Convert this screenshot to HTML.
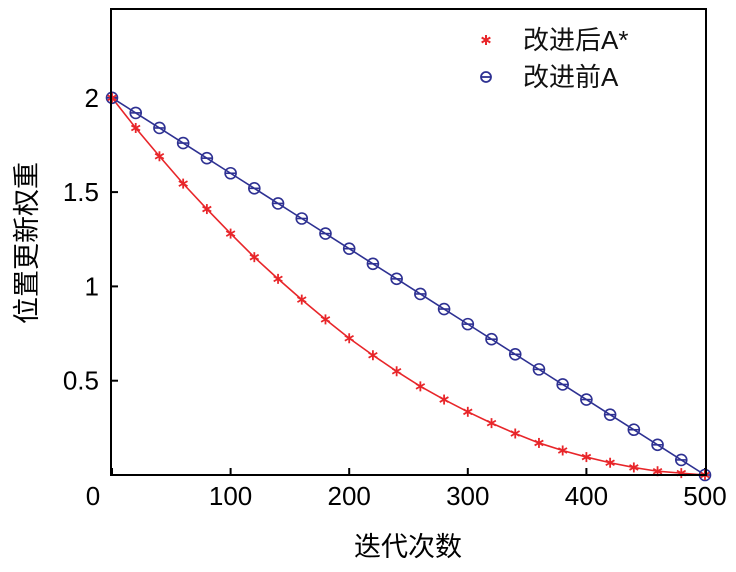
<!DOCTYPE html>
<html><head><meta charset="utf-8"><style>
body{margin:0;background:#fff;}
svg text{font-family:"Liberation Sans","Noto Sans CJK SC",sans-serif;}
</style></head><body>
<svg id="chart" width="736" height="567" xmlns="http://www.w3.org/2000/svg">
<g id="ticks"></g>
<g id="series"></g>
<rect x="111" y="9" width="595" height="466" fill="none" stroke="#000" stroke-width="2"/>
<text x="408" y="556" font-size="27" text-anchor="middle" font-family="'Noto Serif CJK SC','Liberation Serif',serif">迭代次数</text>
<text transform="translate(36,243) rotate(-90)" font-size="27" text-anchor="middle" font-family="'Noto Serif CJK SC','Liberation Serif',serif">位置更新权重</text>
<g>
<g transform="translate(486,40)" stroke="#e8262a" stroke-width="2">
<line x1="0" y1="-5" x2="0" y2="5"/><line x1="0" y1="-5" x2="0" y2="5" transform="rotate(60)"/><line x1="0" y1="-5" x2="0" y2="5" transform="rotate(120)"/>
</g>
<text x="523" y="49" font-size="26" fill="#111">改进后A*</text>
<circle cx="486" cy="77" r="5" fill="none" stroke="#2e3192" stroke-width="1.8"/>
<line x1="481" y1="77" x2="491" y2="77" stroke="#2e3192" stroke-width="1.8"/>
<text x="523" y="86" font-size="26" fill="#111">改进前A</text>
</g>
</svg>
<script>
const iterations=[0,20,40,60,80,100,120,140,160,180,200,220,240,260,280,300,320,340,360,380,400,420,440,460,480,500];
const improvedValues=[2,1.84,1.69,1.545,1.41,1.28,1.155,1.04,0.93,0.825,0.725,0.635,0.55,0.47,0.4,0.335,0.275,0.22,0.17,0.13,0.095,0.065,0.04,0.02,0.01,0];
const originalValues=[2,1.92,1.84,1.76,1.68,1.6,1.52,1.44,1.36,1.28,1.2,1.12,1.04,0.96,0.88,0.8,0.72,0.64,0.56,0.48,0.4,0.32,0.24,0.16,0.08,0];
const xTicks=[0,100,200,300,400,500];
const xTickLabels=["0","100","200","300","400","500"];
const yTicks=[0.5,1,1.5,2];
const yTickLabels=["0.5","1","1.5","2"];
const NS="http://www.w3.org/2000/svg";
const sx=v=>112+v*(705-112)/500;
const sy=v=>475-v*188.6;
function mk(tag,attrs,parent){const e=document.createElementNS(NS,tag);for(const k in attrs)e.setAttribute(k,attrs[k]);parent.appendChild(e);return e;}
const tg=document.getElementById('ticks');
xTicks.forEach((t,i)=>{
 const l=mk('line',{x1:sx(t),x2:sx(t),y1:475,y2:468,stroke:'#000','stroke-width':2},tg);
 
 
 const tx=mk('text',{x:i===0?93:sx(t),y:505,'font-size':26,'text-anchor':'middle'},tg);
 tx.textContent=xTickLabels[i];
 
 
});
yTicks.forEach((t,i)=>{
 const l=mk('line',{x1:111,x2:118,y1:sy(t),y2:sy(t),stroke:'#000','stroke-width':2},tg);
 
 
 const tx=mk('text',{x:99,y:sy(t)+9,'font-size':26,'text-anchor':'end'},tg);
 tx.textContent=yTickLabels[i];
 
 
});
const sg=document.getElementById('series');
const bl=mk('polyline',{points:iterations.map((x,i)=>sx(x)+','+sy(originalValues[i])).join(' '),fill:'none',stroke:'#2e3192','stroke-width':1.6},sg);


const rl=mk('polyline',{points:iterations.map((x,i)=>sx(x)+','+sy(improvedValues[i])).join(' '),fill:'none',stroke:'#e8262a','stroke-width':1.6},sg);


iterations.forEach((x,i)=>{
 const cx=sx(x),cy=sy(originalValues[i]);
 const c=mk('circle',{cx:cx,cy:cy,r:5.5,fill:'none',stroke:'#2e3192','stroke-width':1.6},sg);
 
 
 mk('line',{x1:cx-5.5,x2:cx+5.5,y1:cy,y2:cy,stroke:'#2e3192','stroke-width':1.6},sg);
 const ry=sy(improvedValues[i]);
 const g=mk('g',{transform:`translate(${cx},${ry})`,stroke:'#e8262a','stroke-width':1.8},sg);
 
 
 [0,60,120].forEach(a=>mk('line',{x1:0,y1:-5,x2:0,y2:5,transform:`rotate(${a})`},g));
});
</script>
</body></html>
